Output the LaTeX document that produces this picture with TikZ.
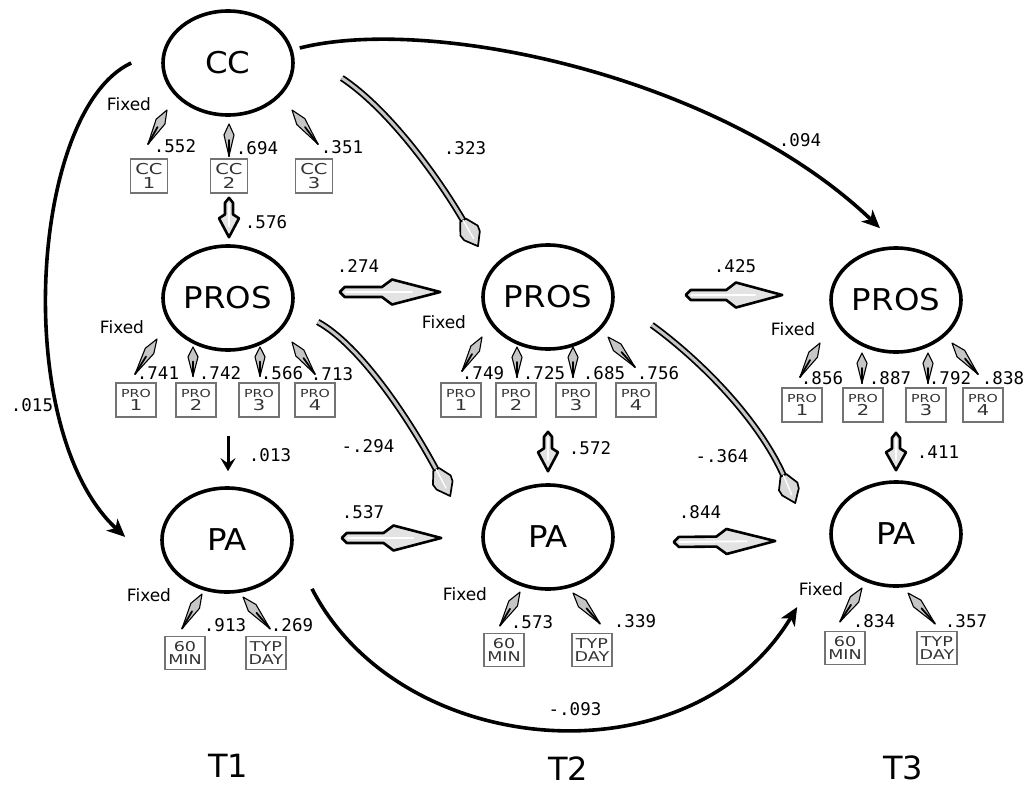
\documentclass[tikz,border=0pt]{standalone}
\usepackage{fontspec}
\setmainfont{DejaVu Sans}
\newfontfamily\coeffont{DejaVu Sans Mono}
\newfontfamily\boxfont[FakeStretch=1.3]{DejaVu Sans}
\newfontfamily\latfont[FakeStretch=1.08]{DejaVu Sans}
\usetikzlibrary{calc,arrows.meta,shapes.geometric}

\tikzset{
  latent/.style={ellipse, draw=black, line width=3.6pt, minimum width=130pt, minimum height=104pt, inner sep=0pt, font=\latfont\fontsize{30}{30}\selectfont},
  ind/.style={draw=black!55, line width=1.7pt, minimum width=38pt, minimum height=34pt, inner sep=0pt, align=center, text=black!80, font=\boxfont\fontsize{15}{13.5}\selectfont},
  coef/.style={inner sep=0pt, font=\coeffont\fontsize{17.5}{17.5}\selectfont},
  fixedlbl/.style={inner sep=0pt, font=\fontsize{17}{17}\selectfont},
  wave/.style={inner sep=0pt, font=\fontsize{32}{32}\selectfont},
  spindle/.style={draw=black, line width=1.1pt, fill=gray!45, line join=round},
  fatbody/.style={draw=black, line width=2.6pt, fill=gray!22, line join=round},
  solidpath/.style={line width=3.6pt, -{Stealth[length=18pt,width=16pt,inset=5pt]}},
  thinpath/.style={line width=3pt, -{Stealth[length=13pt,width=15pt,inset=5pt]}},
  hollowpath/.style={draw=black, line width=1.8pt, double=gray!45, double distance=3pt},
  hollowhead/.style={draw=black, line width=1.7pt, fill=gray!30, line join=round},
}

% loading arrow: spindle from the indicator (#1) to the latent (#2)
\newcommand\loadpath[2]{%
  \path #1 coordinate (lpA) #2 coordinate (lpB);
  \filldraw[spindle] (lpA) -- ($(lpA)!0.66!(lpB)!5pt!90:(lpB)$) -- (lpB)
    -- ($(lpA)!0.66!(lpB)!5pt!-90:(lpB)$) -- cycle;
  \draw[line width=1.8pt, line cap=round] (lpA) -- ($(lpA)!0.5!(lpB)$);
}
% broad hollow arrow: start #1, tip #2, shaft half width #3, head half width #4
\newcommand\fatpath[4]{%
  \path #1 coordinate (fpA) #2 coordinate (fpB);
  \filldraw[fatbody] (fpA) -- ($(fpA)!5pt!(fpB)!#3!90:(fpB)$)
    -- ($(fpA)!0.42!(fpB)!#3!90:(fpB)$) -- ($(fpA)!0.52!(fpB)!#4!90:(fpB)$)
    -- (fpB) -- ($(fpA)!0.52!(fpB)!#4!-90:(fpB)$) -- ($(fpA)!0.42!(fpB)!#3!-90:(fpB)$)
    -- ($(fpA)!5pt!(fpB)!#3!-90:(fpB)$) -- cycle;
  \draw[white, line width=1.8pt, line cap=round] ($(fpA)!6pt!(fpB)$) -- ($(fpA)!0.72!(fpB)$);
}
% double-line curved path with a spade-shaped head
\newcommand\hollowlink[4]{%
  \draw[hollowpath, shorten >=26pt] (#1) .. controls #2 and #3 .. (#4);
  \path ($(#4)!30pt!#3$) coordinate (hlB);
  \filldraw[hollowhead] ($(hlB)!3.2pt!90:(#4)$) -- ($(hlB)!0.4!(#4)!10pt!90:(#4)$)
    -- ($(hlB)!0.6!(#4)!9pt!90:(#4)$) -- (#4)
    -- ($(hlB)!0.6!(#4)!9pt!-90:(#4)$) -- ($(hlB)!0.4!(#4)!10pt!-90:(#4)$)
    -- ($(hlB)!3.2pt!-90:(#4)$) -- cycle;
  \draw[white, line width=1.4pt, line cap=round] (hlB) -- ($(hlB)!0.7!(#4)$);
}

\begin{document}
\begin{tikzpicture}[x=1pt, y=-1pt]
\useasboundingbox (0,0) rectangle (1034,787);

% latent variables
\node[latent] (CC) at (228,63) {CC};
\node[latent] (P1) at (228,298) {PROS};
\node[latent] (A1) at (227,540) {PA};
\node[latent] (P2) at (548,297) {PROS};
\node[latent] (A2) at (548,537) {PA};
\node[latent] (P3) at (896,300) {PROS};
\node[latent] (A3) at (896,534) {PA};

% indicators
\node[ind, minimum width=37pt] (c1) at (149,176) {CC\\1};
\node[ind, minimum width=37pt] (c2) at (229,176) {CC\\2};
\node[ind, minimum width=37pt] (c3) at (314,176) {CC\\3};

\newcommand\pro{\fontsize{11}{11}\selectfont PRO}
\node[ind, minimum width=40pt] (p11) at (136,400) {\pro\\1};
\node[ind, minimum width=40pt] (p12) at (196,400) {\pro\\2};
\node[ind, minimum width=40pt] (p13) at (259,400) {\pro\\3};
\node[ind, minimum width=40pt] (p14) at (315,400) {\pro\\4};
\node[ind, minimum width=40pt] (p21) at (461,400) {\pro\\1};
\node[ind, minimum width=40pt] (p22) at (516,400) {\pro\\2};
\node[ind, minimum width=40pt] (p23) at (576,400) {\pro\\3};
\node[ind, minimum width=40pt] (p24) at (636,400) {\pro\\4};
\node[ind, minimum width=40pt] (p31) at (802,405) {\pro\\1};
\node[ind, minimum width=40pt] (p32) at (863,405) {\pro\\2};
\node[ind, minimum width=40pt] (p33) at (926,405) {\pro\\3};
\node[ind, minimum width=40pt] (p34) at (983,405) {\pro\\4};

\tikzset{paind/.style={ind, minimum width=40pt, minimum height=33pt, font=\boxfont\fontsize{13.5}{12.5}\selectfont}}
\node[paind] (a11) at (185,653) {60\\MIN};
\node[paind] (a12) at (266,653) {TYP\\DAY};
\node[paind] (a21) at (504,650) {60\\MIN};
\node[paind] (a22) at (592,650) {TYP\\DAY};
\node[paind] (a31) at (845,648) {60\\MIN};
\node[paind] (a32) at (937,648) {TYP\\DAY};

% loadings
\loadpath{($(c1.north)+(-1,-14)$)}{($(CC)+(-61,47)$)}
\loadpath{($(c2.north)+(0,-2)$)}{($(CC)+(1,61)$)}
\loadpath{($(c3.north)+(4,-14)$)}{($(CC)+(64,47)$)}

\loadpath{($(p11.north)+(-1,-8)$)}{($(P1)+(-71,41)$)}
\loadpath{($(p12.north)+(-3,-6)$)}{($(P1)+(-35,49)$)}
\loadpath{($(p13.north)+(1,-6)$)}{($(P1)+(32,49)$)}
\loadpath{($(p14.north)+(0,-8)$)}{($(P1)+(64,44)$)}

\loadpath{($(a11.north)+(-3,-7)$)}{($(A1)+(-25,54)$)}
\loadpath{($(a12.north)+(4,-7)$)}{($(A1)+(16,57)$)}

\loadpath{($(p21.north)+(1,-11)$)}{($(P2)+(-66,40)$)}
\loadpath{($(p22.north)+(1,-5)$)}{($(P2)+(-31,50)$)}
\loadpath{($(p23.north)+(-3,-5)$)}{($(P2)+(25,50)$)}
\loadpath{($(p24.north)+(-1,-15)$)}{($(P2)+(60,40)$)}

\loadpath{($(a21.north)+(-4,-7)$)}{($(A2)+(-28,55)$)}
\loadpath{($(a22.north)+(8,-9)$)}{($(A2)+(25,56)$)}

\loadpath{($(p31.north)+(-2,-10)$)}{($(P3)+(-76,43)$)}
\loadpath{($(p32.north)+(-1,-4)$)}{($(P3)+(-34,53)$)}
\loadpath{($(p33.north)+(2,-4)$)}{($(P3)+(32,53)$)}
\loadpath{($(p34.north)+(-5,-13)$)}{($(P3)+(56,43)$)}

\loadpath{($(a31.north)+(-5,-9)$)}{($(A3)+(-34,54)$)}
\loadpath{($(a32.north)+(-2,-7)$)}{($(A3)+(12,59)$)}

% structural paths: broad hollow arrows
\fatpath{($(c2.south)+(0,4)$)}{($(P1.north)+(1,-7)$)}{4pt}{10pt}
\fatpath{($(P2.south)+(0,81)$)}{($(A2.north)+(0,-12)$)}{4pt}{10pt}
\fatpath{($(P3.south)+(0,79)$)}{($(A3.north)+(0,-10)$)}{4pt}{10pt}
\fatpath{($(P1.east)+(45,-6)$)}{($(P2.west)+(-41,-5)$)}{5pt}{12.5pt}
\fatpath{($(P2.east)+(71,-2)$)}{($(P3.west)+(-47,-5)$)}{5pt}{12.5pt}
\fatpath{($(A1.east)+(48,-2)$)}{($(A2.west)+(-40,1)$)}{5pt}{12.5pt}
\fatpath{($(A2.east)+(59,5)$)}{($(A3.west)+(-54,7)$)}{5pt}{12.5pt}

% PROS T1 -> PA T1
\draw[thinpath] ($(P1.south)+(0,84)$) -- ($(A1.north)+(1,-15)$);

% cross-lagged double-line paths
\coordinate (h1s) at ($(CC.east)+(47,15)$);
\coordinate (h1e) at ($(P2.north)+(-70,3)$);
\hollowlink{h1s}{(390,110)}{(440,180)}{h1e}
\coordinate (h2s) at ($(P1.east)+(23,24)$);
\coordinate (h2e) at ($(A2.west)+(-31,-41)$);
\hollowlink{h2s}{(360,345)}{(410,420)}{h2e}
\coordinate (h3s) at ($(P2.east)+(37,28)$);
\coordinate (h3e) at ($(A3.west)+(-34,-31)$);
\hollowlink{h3s}{(700,360)}{(760,420)}{h3e}

% long black paths
\draw[solidpath] ($(CC.west)+(-30,0)$) .. controls (30,110) and (10,430) .. ($(A1.west)+(-35,-3)$);
\draw[solidpath] ($(CC.east)+(5,-15)$) .. controls (430,15) and (720,75) .. ($(P3.north)+(-16,-18)$);
\draw[solidpath] ($(A1.south)+(85,-5)$) .. controls (400,760) and (690,785) .. ($(A3.west)+(-32,73)$);

% coefficients
\foreach \p/\t in {
  {(175,146)}/.552, {(257,148)}/.694, {(342,147)}/.351, {(266,222)}/.576,
  {(465,148)}/.323, {(800,140)}/.094, {(358,266)}/.274, {(735,266)}/.425,
  {(158,373)}/.741, {(220,373)}/.742, {(282,373)}/.566, {(332,374)}/.713,
  {(483,373)}/.749, {(544,373)}/.725, {(604,373)}/.685, {(658,373)}/.756,
  {(822,378)}/.856, {(890,378)}/.887, {(950,378)}/.792, {(1003,378)}/.838,
  {(32,405)}/.015, {(270,455)}/.013, {(368,446)}/-.294, {(590,448)}/.572,
  {(722,456)}/-.364, {(938,452)}/.411, {(363,512)}/.537, {(700,512)}/.844,
  {(225,625)}/.913, {(292,625)}/.269, {(532,622)}/.573, {(635,621)}/.339,
  {(874,621)}/.834, {(966,621)}/.357, {(575,709)}/-.093}
  \node[coef] at \p {\t};

% fixed loadings
\foreach \p in {(129,104), (122,327), (149,595), (444,322), (465,594), (793,329), (821,589)}
  \node[fixedlbl] at \p {Fixed};

% waves
\node[wave] (w1) at (228,766) {T1};
\node[wave] (w2) at (568,769) {T2};
\node[wave] (w3) at (903,768) {T3};
\end{tikzpicture}
\end{document}
